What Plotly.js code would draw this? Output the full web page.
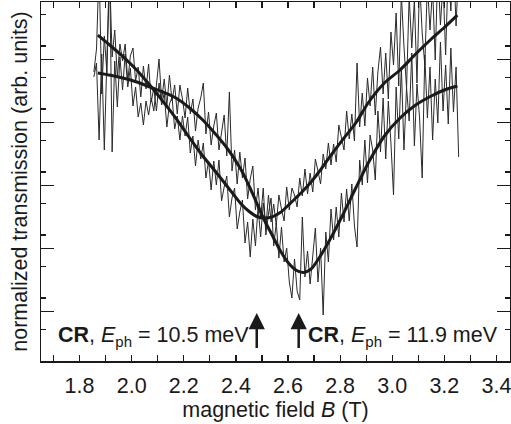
<!DOCTYPE html>
<html>
<head>
<meta charset="utf-8">
<script src="https://cdn.plot.ly/plotly-3.0.1.min.js"></script>
<style>
html,body{margin:0;padding:0;background:#fff;}
#chart{width:511px;height:424px;}
</style>
</head>
<body>
<div id="chart"></div>
<script>
// magnetic field sampling of the measured spectra (T)
var fieldB = [1.855,1.865,1.875,1.885,1.895,1.905,1.915,1.925,1.935,1.945,1.955,1.965,1.975,1.985,1.995,
2.005,2.015,2.025,2.035,2.045,2.055,2.065,2.075,2.085,2.095,2.105,2.115,2.125,2.135,2.145,2.155,2.165,2.175,2.185,2.195,
2.205,2.215,2.225,2.235,2.245,2.255,2.265,2.275,2.285,2.295,2.305,2.315,2.325,2.335,2.345,2.355,2.365,2.375,2.385,2.395,
2.405,2.415,2.425,2.435,2.445,2.455,2.465,2.475,2.485,2.495,2.505,2.515,2.525,2.535,2.545,2.555,2.565,2.575,2.585,2.595,
2.605,2.615,2.625,2.635,2.645,2.655,2.665,2.675,2.685,2.695,2.705,2.715,2.725,2.735,2.745,2.755,2.765,2.775,2.785,2.795,
2.805,2.815,2.825,2.835,2.845,2.855,2.865,2.875,2.885,2.895,2.905,2.915,2.925,2.935,2.945,2.955,2.965,2.975,2.985,2.995,
3.005,3.015,3.025,3.035,3.045,3.055,3.065,3.075,3.085,3.095,3.105,3.115,3.125,3.135,3.145,3.155,3.165,3.175,3.185,3.195,
3.205,3.215,3.225,3.235,3.245,3.255];

// measured transmission, E_ph = 10.5 meV (arb. units)
var trans105 = [2.89,3.12,3.95,2.67,3.25,2.88,3.91,3.04,3.31,2.84,3.17,3.00,3.17,2.80,3.05,
3.13,2.80,2.94,2.64,2.95,2.72,2.97,2.59,2.73,2.50,2.78,2.56,2.68,2.34,2.57,2.64,2.32,2.45,2.21,2.45,
2.25,2.44,2.08,2.25,1.95,2.21,2.02,2.18,1.83,2.00,1.71,2.00,1.76,2.01,1.60,1.74,1.85,1.44,1.63,1.73,
1.32,1.49,1.61,1.18,1.39,1.04,1.42,1.15,1.54,1.24,1.58,1.33,1.66,1.39,1.57,1.36,1.66,1.52,1.40,1.74,
1.51,1.73,1.66,1.54,1.83,1.65,1.92,1.67,1.88,1.69,2.02,1.90,1.77,2.07,1.92,2.18,1.96,2.17,1.99,2.36,
2.24,2.11,2.50,2.22,2.47,2.20,2.98,2.34,2.68,2.35,2.83,2.55,2.94,2.46,2.89,3.14,2.67,3.08,2.62,3.29,
2.96,3.48,2.75,3.67,3.15,2.73,3.65,3.13,3.61,2.78,3.81,3.28,2.96,3.78,3.31,3.73,3.01,3.93,3.36,3.78,
3.06,3.93,3.50,4.03,3.35,3.96];

// measured transmission, E_ph = 11.9 meV (arb. units)
var trans119 = [2.84,2.98,2.21,3.07,2.11,3.11,3.96,2.09,3.00,2.54,3.04,2.71,3.07,2.74,2.93,
2.55,2.74,2.44,2.58,2.36,2.60,2.46,2.63,2.50,2.76,3.02,2.61,2.82,2.55,2.86,2.60,2.76,2.47,2.76,2.62,
2.43,2.73,2.47,2.62,2.30,2.53,2.63,2.78,2.27,2.49,2.16,2.35,2.48,2.11,2.29,2.46,2.05,2.69,1.90,2.11,
1.77,2.09,1.83,2.03,1.62,1.82,1.95,1.51,1.73,1.43,1.73,1.26,1.47,1.63,1.15,1.38,1.03,1.34,0.99,1.13,
0.79,0.63,1.02,0.70,0.61,1.44,0.84,1.10,0.77,1.04,1.33,0.79,1.13,0.46,1.29,0.99,1.52,1.21,1.54,1.24,
1.68,1.39,1.72,1.40,1.77,1.35,1.14,2.01,1.76,2.21,1.78,2.26,2.11,1.81,2.50,2.09,2.63,2.02,2.60,2.18,
1.66,2.74,2.22,2.94,2.11,2.73,2.40,3.08,2.15,2.77,2.43,1.83,3.06,2.43,2.94,2.21,2.82,2.38,3.19,2.50,
2.96,2.37,3.13,2.49,2.94,2.04];

// fitted curves
var fitB = [1.87,1.92,1.97,2.02,2.07,2.12,2.17,2.22,2.27,2.32,2.37,2.42,2.45,2.48,2.51,2.54,2.57,2.60,2.63,2.66,2.69,2.72,2.76,2.81,2.86,2.91,2.97,3.03,3.09,3.15,3.20,3.25];
var fit105 = [3.258,3.15,3.036,2.907,2.757,2.596,2.426,2.24,2.06,1.90,1.735,1.57,1.497,1.445,1.43,1.442,1.484,1.555,1.63,1.707,1.795,1.895,2.04,2.214,2.38,2.59,2.78,2.91,3.07,3.22,3.335,3.458];
var fit119 = [2.88,2.857,2.827,2.79,2.74,2.69,2.63,2.535,2.417,2.275,2.115,1.912,1.755,1.58,1.405,1.255,1.105,0.985,0.91,0.885,0.924,1.033,1.21,1.46,1.73,1.99,2.25,2.43,2.56,2.65,2.71,2.75];

// resonance positions (T) and labels
var crField = [2.48, 2.641];
var crLabels = ['<b>CR</b>, <i>E</i><sub>ph</sub> = 10.5 meV', '<b>CR</b>, <i>E</i><sub>ph</sub> = 11.9 meV'];

var FONT = 'Liberation Sans, Arial, Helvetica, sans-serif';
var INK = '#1a1a1a';
var FS = 21.5;

var traces = [
  {x: fieldB, y: trans105, mode: 'lines', line: {color: '#2a2a2a', width: 1}, hoverinfo: 'skip'},
  {x: fieldB, y: trans119, mode: 'lines', line: {color: '#2a2a2a', width: 1}, hoverinfo: 'skip'},
  {x: fitB, y: fit105, mode: 'lines', line: {color: INK, width: 3, shape: 'spline', smoothing: 0.8}, hoverinfo: 'skip'},
  {x: fitB, y: fit119, mode: 'lines', line: {color: INK, width: 3, shape: 'spline', smoothing: 0.8}, hoverinfo: 'skip'}
];

var arrowStyle = {xref: 'x', yref: 'y', ax: 0, ay: 36, showarrow: true, arrowhead: 2, arrowsize: 1.3,
  arrowwidth: 2.5, arrowcolor: INK, text: ' ', font: {size: 1}, borderpad: 0, standoff: 0, startstandoff: 0};

var annotations = [
  Object.assign({x: crField[0], y: 0.48}, arrowStyle),
  Object.assign({x: crField[1], y: 0.48}, arrowStyle),
  {x: 2.457, y: 0.25, xref: 'x', yref: 'y', xanchor: 'right', yanchor: 'middle', showarrow: false, text: crLabels[0], font: {family: FONT, size: FS, color: INK}},
  {x: 2.668, y: 0.25, xref: 'x', yref: 'y', xanchor: 'left', yanchor: 'middle', showarrow: false, text: crLabels[1], font: {family: FONT, size: FS, color: INK}}
];

var layout = {
  width: 511, height: 424,
  margin: {l: 41, r: 1, t: 2, b: 63},
  paper_bgcolor: '#fff', plot_bgcolor: '#fff',
  showlegend: false,
  font: {family: FONT, size: FS, color: INK},
  xaxis: {
    range: [1.652, 3.452], showgrid: false, zeroline: false,
    showline: true, linecolor: INK, linewidth: 1.5, mirror: 'ticks',
    ticks: 'inside', ticklen: 6, tickwidth: 1.2, tickcolor: INK,
    tick0: 1.8, dtick: 0.2, tickformat: '.1f', ticklabelstandoff: 5, ticklabeloverflow: 'allow',
    minor: {dtick: 0.1, ticks: 'inside', ticklen: 6, tickwidth: 1.2, tickcolor: INK, showgrid: false},
    tickfont: {family: FONT, size: FS, color: INK},
    title: {text: 'magnetic field <i>B</i> (T)', font: {family: FONT, size: FS, color: INK}, standoff: 0}
  },
  yaxis: {
    range: [0, 3.59], showgrid: false, zeroline: false,
    showline: true, linecolor: INK, linewidth: 1.5, mirror: 'ticks',
    ticks: 'inside', ticklen: 13, tickwidth: 1.2, tickcolor: INK,
    tick0: 0.493, dtick: 0.63, showticklabels: false,
    minor: {dtick: 0.315, ticks: 'inside', ticklen: 5, tickwidth: 1.2, tickcolor: INK, showgrid: false},
    title: {text: 'normalized transmission (arb. units)', font: {family: FONT, size: FS, color: INK}, standoff: 6}
  },
  annotations: annotations
};

Plotly.newPlot('chart', traces, layout, {staticPlot: true, displayModeBar: false});
</script>
</body>
</html>
